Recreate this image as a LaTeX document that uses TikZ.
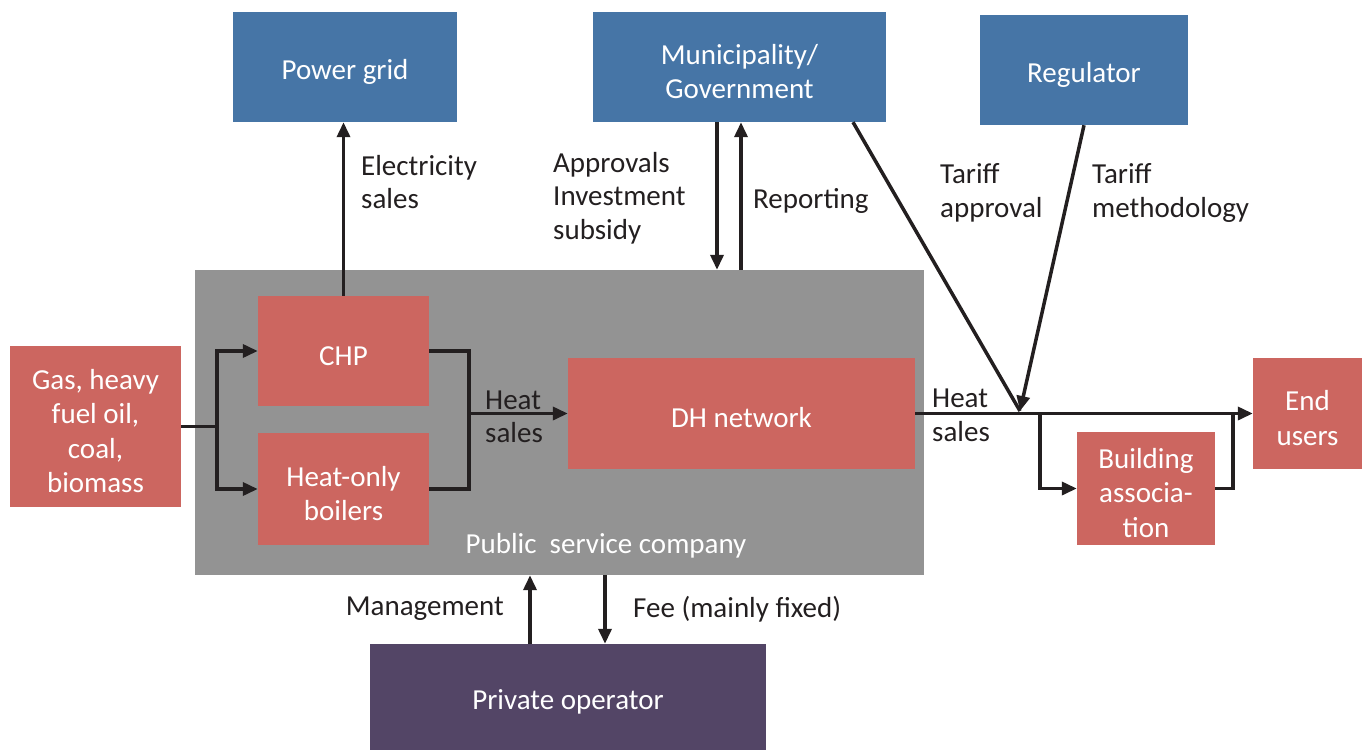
\documentclass[tikz,border=0pt]{standalone}
\usepackage{fontspec}
\setmainfont{Carlito}
\usetikzlibrary{arrows.meta}

\definecolor{boxblue}{RGB}{70,117,166}
\definecolor{boxred}{RGB}{204,102,96}
\definecolor{boxgray}{RGB}{147,147,147}
\definecolor{boxpurple}{RGB}{83,69,102}
\definecolor{linedark}{RGB}{35,31,32}

\begin{document}
\begin{tikzpicture}[x=1pt,y=-1pt,
        font=\fontsize{29}{33.5}\selectfont,
        box/.style={inner sep=0pt, text=white, align=center, text height=29pt,
            font=\fontsize{29}{34.5}\selectfont},
        txt/.style={inner sep=0pt, align=left, text=linedark},
        flow/.style={line width=3.5pt, draw=linedark},
        arr/.style={flow, -{Triangle[length=15pt,width=13pt]}}]
        \useasboundingbox (0,0) rectangle (1362,750);

        % zeichne Public service company
        \node[box, fill=boxgray, minimum width=729, minimum height=305] (psc) at (559.5,422.5) {};
        \node[box] (psctxt) at (606,541) {Public~ service company};

        % zeichne Akteure
        \node[box, fill=boxblue, minimum width=224, minimum height=110] (grid) at (345,67) {Power grid};
        \node[box, fill=boxblue, minimum width=293, minimum height=110, text height=63.5pt] (muni) at (739.5,67) {Municipality/\\Government};
        \node[box, fill=boxblue, minimum width=208, minimum height=110] (reg) at (1084,70) {Regulator};
        \node[box, fill=boxpurple, minimum width=396, minimum height=106] (priv) at (568,697) {Private operator};

        % zeichne Anlagen
        \node[box, fill=boxred, minimum width=171, minimum height=161, text height=132.5pt] (fuel) at (95.5,426.5) {Gas, heavy\\fuel oil,\\coal,\\biomass};
        \node[box, fill=boxred, minimum width=171, minimum height=110] (chp) at (343.5,351) {CHP};
        \node[box, fill=boxred, minimum width=171, minimum height=112, text height=63.5pt] (hob) at (343.5,489) {Heat-only\\boilers};
        \node[box, fill=boxred, minimum width=347, minimum height=111] (dh) at (741.5,413.5) {DH network};
        \node[box, fill=boxred, minimum width=138, minimum height=113, text height=98pt] (bldg) at (1146,488.5) {Building\\associa-\\tion};
        \node[box, fill=boxred, minimum width=109, minimum height=111, text height=63.5pt] (end) at (1307.5,413.5) {End\\users};

        % Knotenpunkte
        \coordinate (split) at (217,426.5);
        \coordinate (merge) at (469,413.5);
        \coordinate (tariff) at (1020,411);
        \coordinate (bsplit) at (1040,413.5);
        \coordinate (bjoin) at (1233,413.5);

        % zeichne Waermefluss
        \draw[flow] (fuel.east) -- (split);
        \draw[arr] (split) |- (chp.west);
        \draw[arr] (split) |- (hob.west);
        \draw[flow] (chp.east) -| (merge);
        \draw[flow] (hob.east) -| (merge);
        \draw[arr] (merge) -- (dh.west);
        \draw[arr] (dh.east) -- (end.west);
        \draw[arr] (bsplit) |- (bldg.west);
        \draw[flow] (bldg.east) -| (bjoin);

        % zeichne Beziehungen
        \draw[arr] (chp.north) -- (chp.north |- grid.south);
        \draw[arr] ([xshift=-22.5]muni.south) -- ([xshift=-22.5]muni.south |- psc.north);
        \draw[arr] ([xshift=1.5]muni.south |- psc.north) -- ([xshift=1.5]muni.south);
        \draw[flow] ([xshift=113.5]muni.south) -- (tariff);
        \draw[arr] (reg.south) -- (tariff);
        \draw[arr] (priv.north -| 530,0) -- (psc.south -| 530,0);
        \draw[arr] (psc.south -| 605,0) -- (priv.north -| 605,0);

        % zeichne Labels
        \node[txt, anchor=west] (elec) at (361,182) {Electricity\\sales};
        \node[txt, anchor=west] (approv) at (553,198) {Approvals\\Investment\\subsidy};
        \node[txt, anchor=west] (report) at (753,201) {Reporting};
        \node[txt, anchor=west] (tapp) at (940,193) {Tariff\\approval};
        \node[txt, anchor=west] (tmeth) at (1092,193) {Tariff\\methodology};
        \node[txt, anchor=west] (heatA) at (485,417) {Heat\\sales};
        \node[txt, anchor=west] (heatB) at (932,415.5) {Heat\\sales};
        \node[txt, anchor=east] (mgmt) at (504,609) {Management};
        \node[txt, anchor=west] (fee) at (633,609) {Fee (mainly fixed)};
    \end{tikzpicture}
\end{document}
